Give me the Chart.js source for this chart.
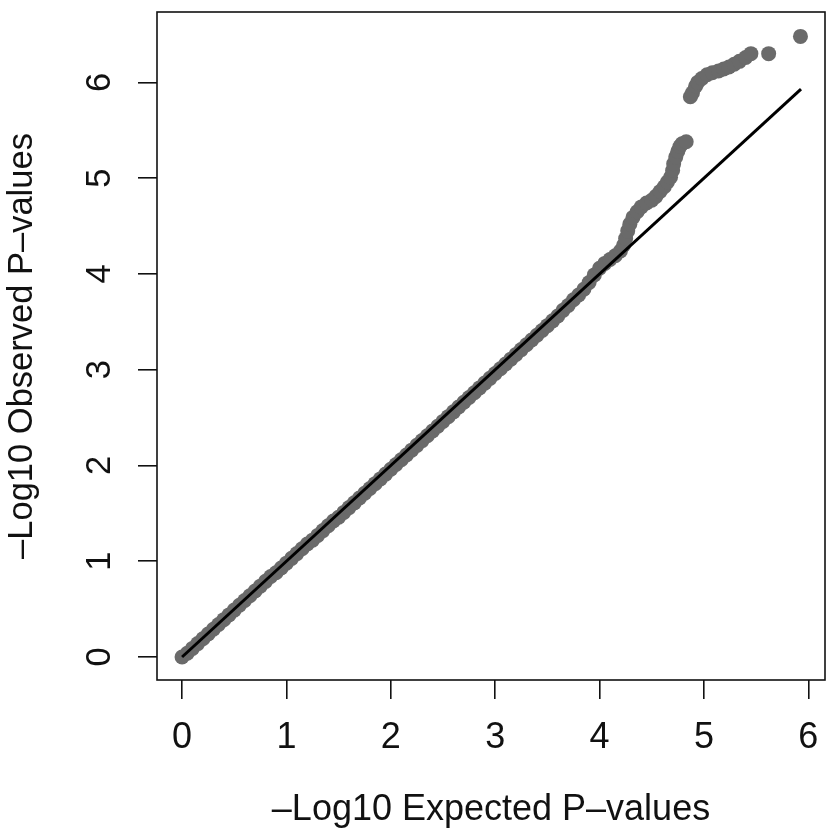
<!DOCTYPE html>
<html>
<head>
<meta charset="utf-8">
<script src="https://cdn.jsdelivr.net/npm/chart.js@4"></script>
<style>
html,body{margin:0;padding:0;background:#fff;}
#wrap{width:828px;height:835px;}
</style>
</head>
<body>
<div id="wrap"><canvas id="c" width="828" height="835"></canvas></div>
<script>
// ---- Data ----
const expectedP = [
 0.00,0.05,0.10,0.15,0.20,0.25,0.30,0.35,0.40,0.45,
 0.50,0.55,0.60,0.65,0.70,0.75,0.80,0.85,0.90,0.95,
 1.00,1.05,1.10,1.15,1.20,1.25,1.30,1.35,1.40,1.45,
 1.50,1.55,1.60,1.65,1.70,1.75,1.80,1.85,1.90,1.95,
 2.00,2.05,2.10,2.15,2.20,2.25,2.30,2.35,2.40,2.45,
 2.50,2.55,2.60,2.65,2.70,2.75,2.80,2.85,2.90,2.95,
 3.00,3.05,3.10,3.15,3.20,3.25,3.30,3.35,3.40,3.45,
 3.50,3.55,3.60,3.65,3.70,3.75,3.80,3.85,3.90,3.95,
 4.00,4.05,4.10,4.15,4.20,4.23,4.25,4.27,4.29,4.32,
 4.36,4.40,4.45,4.50,4.54,4.58,4.62,4.65,4.68,4.70,
 4.71,4.73,4.75,4.77,4.79,4.83,
 4.87,4.89,4.92,4.94,4.98,5.03,5.08,5.14,5.19,5.24,
 5.29,5.34,5.40,5.45,5.62,5.925
];
const observedP = [
 0.00,0.04,0.09,0.14,0.19,0.24,0.29,0.34,0.39,0.44,
 0.49,0.54,0.59,0.64,0.69,0.74,0.79,0.84,0.88,0.93,
 0.98,1.03,1.08,1.13,1.18,1.22,1.27,1.32,1.37,1.42,
 1.46,1.51,1.56,1.61,1.66,1.71,1.76,1.81,1.86,1.91,
 1.96,2.01,2.06,2.11,2.16,2.21,2.26,2.31,2.36,2.41,
 2.46,2.51,2.56,2.61,2.66,2.71,2.76,2.81,2.86,2.91,
 2.96,3.01,3.06,3.11,3.16,3.21,3.26,3.31,3.36,3.41,
 3.46,3.51,3.56,3.62,3.67,3.73,3.78,3.84,3.91,3.99,
 4.06,4.11,4.15,4.19,4.24,4.30,4.37,4.45,4.52,4.59,
 4.65,4.70,4.74,4.77,4.81,4.86,4.91,4.96,5.01,5.08,
 5.15,5.22,5.28,5.33,5.36,5.38,
 5.85,5.89,5.96,6.00,6.04,6.08,6.10,6.12,6.14,6.16,
 6.19,6.22,6.26,6.30,6.30,6.48
];
const refLineX = [0, 5.93];
const refLineY = [0, 5.93];
const xTickValues = [0,1,2,3,4,5,6];
const yTickValues = [0,1,2,3,4,5,6];
const xAxisTitle = '\u2013Log10 Expected P\u2013values';
const yAxisTitle = '\u2013Log10 Observed P\u2013values';

// ---- Chart ----
const FONT = "'Liberation Sans', Arial, Helvetica, sans-serif";
const XSIZE = 36;
const YSIZE = 34.5;

const frameAndLabels = {
  id: 'frameAndLabels',
  afterDraw(chart) {
    const {ctx, chartArea: a, scales} = chart;
    ctx.save();
    ctx.strokeStyle = '#111';
    ctx.lineWidth = 1.6;
    ctx.strokeRect(a.left, a.top, a.right - a.left, a.bottom - a.top);
    ctx.fillStyle = '#111';
    ctx.textAlign = 'center';
    ctx.textBaseline = 'middle';
    // x tick labels
    ctx.font = XSIZE + 'px ' + FONT;
    xTickValues.forEach(v => {
      ctx.fillText(String(v), scales.x.getPixelForValue(v), a.bottom + 58);
    });
    // rotated y tick labels
    ctx.font = YSIZE + 'px ' + FONT;
    yTickValues.forEach(v => {
      const y = scales.y.getPixelForValue(v);
      ctx.save();
      ctx.translate(a.left - 57, y);
      ctx.rotate(-Math.PI / 2);
      ctx.fillText(String(v), 0, 0);
      ctx.restore();
    });
    ctx.restore();
  }
};

new Chart(document.getElementById('c'), {
  type: 'scatter',
  data: {
    datasets: [
      {
        type: 'line',
        data: refLineX.map((x, i) => ({x, y: refLineY[i]})),
        borderColor: '#000',
        borderWidth: 3,
        pointRadius: 0,
        fill: false,
        order: 0
      },
      {
        data: expectedP.map((x, i) => ({x, y: observedP[i]})),
        backgroundColor: '#6a6a6a',
        borderWidth: 0,
        pointRadius: 7.5,
        pointHoverRadius: 7.5,
        order: 1
      }
    ]
  },
  options: {
    responsive: false,
    animation: false,
    devicePixelRatio: 1,
    layout: {autoPadding: false, padding: {top: 12, right: 3, left: 0, bottom: 0}},
    plugins: {legend: {display: false}, tooltip: {enabled: false}},
    scales: {
      x: {
        type: 'linear',
        min: -0.24, max: 6.16,
        afterBuildTicks: s => { s.ticks = xTickValues.map(v => ({value: v})); },
        afterFit: s => { s.height = 155; },
        border: {display: false},
        grid: {drawOnChartArea: false, drawTicks: true, tickLength: 19, tickColor: '#111', lineWidth: 1.6},
        ticks: {display: false},
        title: {display: true, text: xAxisTitle, color: '#111', font: {family: FONT, size: XSIZE}, padding: {top: 0, bottom: 3}}
      },
      y: {
        type: 'linear',
        min: -0.24, max: 6.735,
        afterBuildTicks: s => { s.ticks = yTickValues.map(v => ({value: v})); },
        afterFit: s => { s.width = 157; },
        border: {display: false},
        grid: {drawOnChartArea: false, drawTicks: true, tickLength: 19, tickColor: '#111', lineWidth: 1.6},
        ticks: {display: false},
        title: {display: true, text: yAxisTitle, color: '#111', font: {family: FONT, size: YSIZE}, padding: {top: 2, bottom: 0}}
      }
    }
  },
  plugins: [frameAndLabels]
});
</script>
</body>
</html>
